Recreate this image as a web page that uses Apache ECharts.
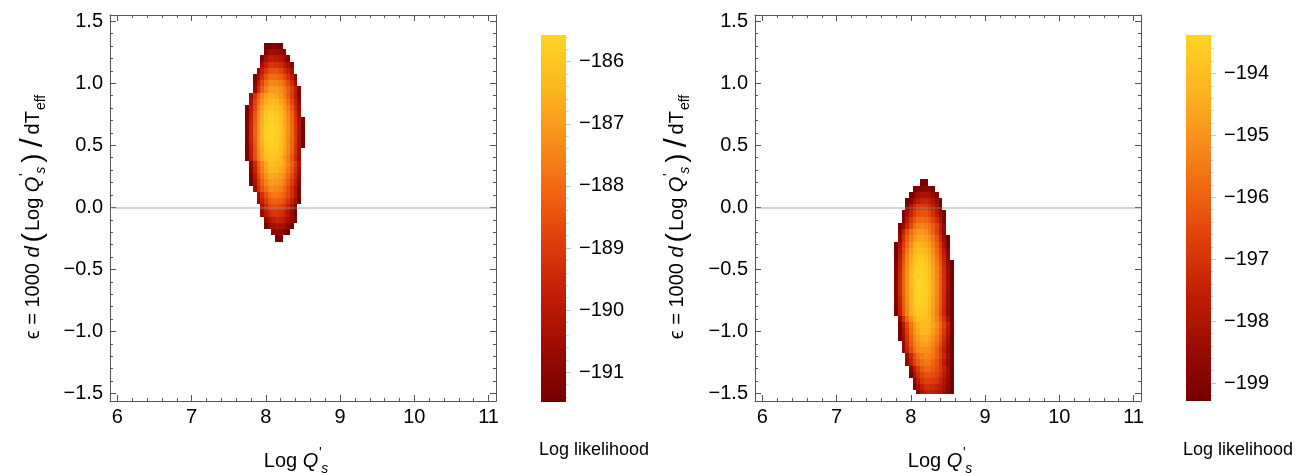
<!DOCTYPE html>
<html><head><meta charset="utf-8">
<script src="https://cdn.jsdelivr.net/npm/echarts@6.0.0/dist/echarts.min.js"></script>
<style>html,body{margin:0;padding:0;background:#fff}#c{width:1300px;height:473px}</style>
</head><body><div id="c"></div>
<script>
// ---------------- data ----------------
const GRID_STEP = 0.05;
const xTicks = [6, 7, 8, 9, 10, 11];
const xTickLabels = ['6', '7', '8', '9', '10', '11'];
const yTicks = [-1.5, -1, -0.5, 0, 0.5, 1, 1.5];
const yTickLabels = ['\u22121.5', '\u22121.0', '\u22120.5', '0.0', '0.5', '1.0', '1.5'];
const leftBarTicks = [-191, -190, -189, -188, -187, -186];
const leftBarLabels = ['\u2212191', '\u2212190', '\u2212189', '\u2212188', '\u2212187', '\u2212186'];
const rightBarTicks = [-199, -198, -197, -196, -195, -194];
const rightBarLabels = ['\u2212199', '\u2212198', '\u2212197', '\u2212196', '\u2212195', '\u2212194'];
const leftRange = [-191.48, -185.57];
const rightRange = [-199.29, -193.38];
const rightYMin = -1.5;

// left panel: one row per y, first x of row, log-likelihood values at x0, x0+0.05, ...
const leftRowY = [1.30, 1.25, 1.20, 1.15, 1.10, 1.05, 1.00, 0.95, 0.90, 0.85, 0.80, 0.75, 0.70, 0.65, 0.60, 0.55, 0.50, 0.45, 0.40, 0.35, 0.30, 0.25, 0.20, 0.15, 0.10, 0.05, 0.00, -0.05, -0.10, -0.15, -0.20, -0.25];
const leftRowX0 = [8.00, 8.00, 7.95, 7.95, 7.90, 7.85, 7.85, 7.85, 7.80, 7.80, 7.75, 7.75, 7.75, 7.75, 7.75, 7.75, 7.75, 7.75, 7.75, 7.80, 7.80, 7.80, 7.80, 7.85, 7.90, 7.90, 7.95, 7.95, 8.00, 8.00, 8.10, 8.15];
const leftRowV = [
  [-191.5, -191.5, -191.3, -191.4, -191.5],
  [-191.1, -190.7, -190.5, -190.6, -190.8, -191.2],
  [-191.2, -190.4, -189.9, -189.8, -189.9, -190.1, -190.5, -191.1],
  [-190.5, -189.7, -189.2, -189.1, -189.2, -189.4, -189.8, -190.4, -191.1],
  [-190.9, -189.8, -189.1, -188.6, -188.5, -188.5, -188.8, -189.2, -189.7, -190.4],
  [-191.4, -190.4, -189.3, -188.5, -188.0, -187.9, -188.0, -188.2, -188.6, -189.2, -189.9, -191.0],
  [-191.2, -189.9, -188.8, -188.0, -187.5, -187.4, -187.5, -187.7, -188.1, -188.7, -189.4, -190.5],
  [-190.8, -189.4, -188.3, -187.6, -187.1, -187.0, -187.0, -187.3, -187.7, -188.2, -188.9, -189.8, -190.9],
  [-190.6, -189.2, -188.2, -187.4, -186.9, -186.6, -186.6, -186.8, -187.1, -187.6, -188.2, -189.0, -189.9, -191.1],
  [-190.2, -188.9, -187.9, -187.1, -186.6, -186.3, -186.3, -186.4, -186.8, -187.2, -187.9, -188.7, -189.6, -190.8],
  [-191.5, -190.0, -188.7, -187.6, -186.8, -186.3, -186.0, -186.0, -186.2, -186.5, -187.0, -187.6, -188.4, -189.4, -190.5],
  [-191.4, -189.8, -188.5, -187.4, -186.6, -186.1, -185.8, -185.8, -186.0, -186.3, -186.8, -187.4, -188.2, -189.2, -190.3],
  [-191.2, -189.7, -188.3, -187.3, -186.5, -186.0, -185.7, -185.7, -185.9, -186.2, -186.7, -187.3, -188.1, -189.1, -190.2, -191.4],
  [-191.2, -189.6, -188.3, -187.2, -186.4, -185.9, -185.6, -185.6, -185.8, -186.1, -186.6, -187.2, -188.0, -189.0, -190.1, -191.4],
  [-191.2, -189.6, -188.2, -187.2, -186.4, -185.9, -185.6, -185.6, -185.8, -186.1, -186.6, -187.2, -188.0, -189.0, -190.1, -191.4],
  [-191.2, -189.6, -188.3, -187.2, -186.4, -185.9, -185.6, -185.6, -185.8, -186.1, -186.6, -187.3, -188.0, -189.0, -190.2, -191.4],
  [-191.3, -189.7, -188.4, -187.3, -186.5, -186.0, -185.7, -185.7, -185.9, -186.2, -186.7, -187.3, -188.1, -189.1, -190.2, -191.5],
  [-191.4, -189.8, -188.5, -187.4, -186.7, -186.1, -185.9, -185.9, -186.0, -186.3, -186.8, -187.4, -188.2, -189.2, -190.3],
  [-191.5, -190.0, -188.6, -187.6, -186.8, -186.3, -186.0, -186.0, -186.2, -186.5, -187.0, -187.6, -188.4, -189.4, -190.5],
  [-190.9, -189.5, -188.3, -187.4, -186.7, -186.3, -186.2, -186.3, -186.5, -186.9, -187.5, -188.2, -189.0, -190.1],
  [-191.1, -189.7, -188.5, -187.6, -186.9, -186.5, -186.4, -186.5, -186.7, -187.1, -187.7, -188.4, -189.3, -190.3],
  [-191.4, -190.0, -188.8, -187.9, -187.2, -186.8, -186.7, -186.8, -187.0, -187.4, -188.0, -188.7, -189.5, -190.6],
  [-191.5, -190.3, -189.1, -188.2, -187.5, -187.1, -187.0, -187.1, -187.3, -187.7, -188.3, -189.0, -189.8, -190.9],
  [-190.6, -189.4, -188.5, -187.9, -187.5, -187.3, -187.4, -187.6, -188.0, -188.6, -189.3, -190.2, -191.2],
  [-190.4, -189.3, -188.5, -188.0, -187.7, -187.7, -187.9, -188.2, -188.7, -189.3, -190.1, -191.1],
  [-190.8, -189.7, -189.0, -188.4, -188.2, -188.2, -188.3, -188.6, -189.1, -189.7, -190.5, -191.5],
  [-190.2, -189.4, -188.9, -188.6, -188.6, -188.8, -189.1, -189.6, -190.2, -191.0],
  [-190.7, -189.9, -189.4, -189.1, -189.1, -189.3, -189.6, -190.1, -190.7, -191.5],
  [-190.8, -190.2, -189.8, -189.6, -189.7, -190.0, -190.4, -190.9, -191.5],
  [-191.4, -190.8, -190.4, -190.2, -190.3, -190.5, -190.9, -191.5],
  [-191.0, -190.8, -190.9, -191.2, -191.5],
  [-191.5, -191.5]
];

// right panel
const rightRowY = [0.20, 0.15, 0.10, 0.05, 0.00, -0.05, -0.10, -0.15, -0.20, -0.25, -0.30, -0.35, -0.40, -0.45, -0.50, -0.55, -0.60, -0.65, -0.70, -0.75, -0.80, -0.85, -0.90, -0.95, -1.00, -1.05, -1.10, -1.15, -1.20, -1.25, -1.30, -1.35, -1.40, -1.45, -1.50];
const rightRowX0 = [8.15, 8.05, 8.00, 7.95, 7.95, 7.90, 7.90, 7.85, 7.85, 7.85, 7.80, 7.80, 7.80, 7.80, 7.80, 7.80, 7.80, 7.80, 7.80, 7.80, 7.80, 7.80, 7.85, 7.85, 7.85, 7.85, 7.90, 7.90, 7.95, 7.95, 8.00, 8.00, 8.05, 8.05, 8.10];
const rightRowV = [
  [-199.3, -199.2],
  [-199.3, -199.0, -198.8, -198.7, -198.9, -199.3],
  [-199.3, -198.8, -198.3, -198.1, -198.1, -198.2, -198.6, -199.1],
  [-199.3, -199.0, -198.2, -197.7, -197.4, -197.4, -197.6, -197.9, -198.5, -199.2],
  [-198.8, -198.0, -197.3, -196.9, -196.8, -196.9, -197.2, -197.6, -198.2, -199.0],
  [-199.3, -198.3, -197.4, -196.8, -196.4, -196.3, -196.3, -196.6, -197.1, -197.7, -198.5, -199.3],
  [-199.0, -197.8, -196.9, -196.3, -195.9, -195.8, -195.9, -196.1, -196.6, -197.2, -198.0, -198.9],
  [-199.3, -198.5, -197.4, -196.5, -195.8, -195.4, -195.3, -195.4, -195.7, -196.1, -196.7, -197.5, -198.5],
  [-198.8, -197.5, -196.5, -195.7, -195.2, -194.9, -194.9, -195.1, -195.5, -196.0, -196.7, -197.6, -198.6],
  [-198.4, -197.1, -196.1, -195.4, -194.9, -194.6, -194.6, -194.8, -195.1, -195.6, -196.3, -197.2, -198.3, -199.3],
  [-199.3, -198.1, -196.8, -195.8, -195.1, -194.5, -194.3, -194.3, -194.5, -194.8, -195.3, -196.0, -196.9, -198.0, -199.2],
  [-199.3, -197.9, -196.6, -195.6, -194.8, -194.3, -194.0, -194.0, -194.2, -194.5, -195.1, -195.8, -196.6, -197.7, -198.9],
  [-199.2, -197.6, -196.4, -195.3, -194.6, -194.1, -193.8, -193.8, -194.0, -194.3, -194.9, -195.6, -196.4, -197.5, -198.7],
  [-199.0, -197.5, -196.2, -195.2, -194.4, -193.9, -193.6, -193.6, -193.8, -194.2, -194.7, -195.4, -196.3, -197.3, -198.6, -199.3],
  [-198.9, -197.4, -196.1, -195.1, -194.3, -193.8, -193.5, -193.5, -193.7, -194.0, -194.6, -195.3, -196.1, -197.2, -198.4, -199.3],
  [-198.8, -197.3, -196.0, -195.0, -194.2, -193.7, -193.5, -193.4, -193.6, -194.0, -194.5, -195.2, -196.1, -197.1, -198.4, -199.3],
  [-198.8, -197.3, -196.0, -195.0, -194.2, -193.7, -193.4, -193.4, -193.6, -194.0, -194.5, -195.2, -196.1, -197.1, -198.3, -199.3],
  [-198.8, -197.3, -196.0, -195.0, -194.2, -193.7, -193.4, -193.4, -193.6, -194.0, -194.5, -195.2, -196.1, -197.1, -198.3, -199.3],
  [-198.8, -197.3, -196.0, -195.0, -194.3, -193.7, -193.5, -193.5, -193.6, -194.0, -194.5, -195.2, -196.1, -197.2, -198.4, -199.3],
  [-198.9, -197.4, -196.1, -195.1, -194.3, -193.8, -193.5, -193.5, -193.7, -194.1, -194.6, -195.3, -196.2, -197.2, -198.5, -199.3],
  [-199.0, -197.5, -196.2, -195.2, -194.4, -193.9, -193.6, -193.6, -193.8, -194.2, -194.7, -195.4, -196.3, -197.3, -198.5, -199.3],
  [-199.1, -197.6, -196.3, -195.3, -194.5, -194.0, -193.8, -193.7, -193.9, -194.3, -194.8, -195.5, -196.4, -197.4, -198.7, -199.3],
  [-198.5, -197.1, -195.9, -195.0, -194.4, -194.0, -193.9, -194.0, -194.2, -194.7, -195.3, -196.1, -197.0, -198.2, -199.3],
  [-199.3, -197.9, -196.6, -195.6, -194.8, -194.3, -194.1, -194.0, -194.2, -194.6, -195.1, -195.8, -196.7, -197.7, -199.0],
  [-199.3, -198.1, -196.8, -195.8, -195.0, -194.5, -194.2, -194.2, -194.4, -194.8, -195.3, -196.0, -196.9, -197.9, -199.2],
  [-199.3, -198.3, -197.0, -196.0, -195.2, -194.7, -194.5, -194.4, -194.6, -195.0, -195.5, -196.2, -197.1, -198.1, -199.3],
  [-198.5, -197.3, -196.2, -195.5, -195.0, -194.7, -194.7, -194.9, -195.2, -195.7, -196.5, -197.3, -198.4, -199.3],
  [-198.8, -197.5, -196.5, -195.7, -195.2, -195.0, -195.0, -195.1, -195.5, -196.0, -196.7, -197.6, -198.6, -199.3],
  [-198.4, -197.3, -196.4, -195.7, -195.4, -195.2, -195.3, -195.6, -196.0, -196.6, -197.4, -198.4, -199.3],
  [-198.7, -197.6, -196.7, -196.1, -195.7, -195.5, -195.6, -195.9, -196.3, -196.9, -197.7, -198.7, -199.3],
  [-198.8, -197.6, -196.8, -196.2, -195.9, -195.9, -196.1, -196.4, -196.9, -197.5, -198.3, -199.3],
  [-199.3, -198.1, -197.2, -196.6, -196.3, -196.3, -196.4, -196.7, -197.1, -197.7, -198.4, -199.3],
  [-198.8, -197.7, -197.0, -196.7, -196.7, -196.8, -197.0, -197.4, -197.9, -198.6, -199.3],
  [-199.3, -198.3, -197.5, -197.1, -197.1, -197.2, -197.4, -197.7, -198.1, -198.7, -199.3],
  [-199.0, -198.1, -197.6, -197.5, -197.6, -197.8, -198.0, -198.4, -198.8, -199.3]
];

// ---------------- styling / layout ----------------
const F = "'Liberation Sans', Arial, Helvetica, sans-serif";
const FS = 20;
const FRAME = '#555555';
const X_MIN = 5.9, X_MAX = 11.1, Y_MIN = -1.56, Y_MAX = 1.55;
const PALETTE = ['#750000', '#9a0c02', '#c01c04', '#dd3c0a', '#f06512', '#f78f1a', '#fbb71f', '#ffd424'];

function cells(rowY, rowX0, rowV) {
  const out = [];
  rowV.forEach((vals, r) => {
    vals.forEach((v, i) => {
      const x = Math.round((rowX0[r] + i * GRID_STEP) * 1000) / 1000;
      out.push([x, rowY[r], v]);
    });
  });
  return out;
}
function stepTicks(lo, hi, step, exclude) {
  const out = [];
  const n = Math.round((hi - lo) / step);
  for (let i = 0; i <= n; i++) {
    const v = Math.round((lo + i * step) * 1000) / 1000;
    if (!exclude.some(e => Math.abs(e - v) < 1e-9)) out.push(v);
  }
  return out;
}
const xMinor = stepTicks(6, 11, 0.2, xTicks);
const yMinor = stepTicks(-1.5, 1.5, 0.1, yTicks);
const leftBarMinor = stepTicks(-191.4, -185.6, 0.2, leftBarTicks);
const rightBarMinor = stepTicks(-199.2, -193.4, 0.2, rightBarTicks);

function fmt(ticks, labels) {
  return v => { const i = ticks.findIndex(t => Math.abs(t - v) < 1e-6); return i < 0 ? '' : labels[i]; };
}
const labelStyle = { fontFamily: F, fontSize: FS, color: '#000' };

function plotAxes(g) {
  const xs = [], ys = [];
  ['bottom', 'top'].forEach(pos => {
    xs.push({ gridIndex: g, type: 'value', min: X_MIN, max: X_MAX, position: pos, splitLine: { show: false },
      axisLine: { show: true, onZero: false, lineStyle: { color: FRAME, width: 1 } },
      axisTick: { show: true, inside: true, length: 6, customValues: xTicks, lineStyle: { color: FRAME } },
      axisLabel: Object.assign({ show: pos === 'bottom', customValues: xTicks, formatter: fmt(xTicks, xTickLabels), margin: 6 }, labelStyle) });
    xs.push({ gridIndex: g, type: 'value', min: X_MIN, max: X_MAX, position: pos, splitLine: { show: false },
      axisLine: { show: false, onZero: false },
      axisTick: { show: true, inside: true, length: 3, customValues: xMinor, lineStyle: { color: FRAME } },
      axisLabel: { show: false } });
  });
  ['left', 'right'].forEach(pos => {
    ys.push({ gridIndex: g, type: 'value', min: Y_MIN, max: Y_MAX, position: pos, splitLine: { show: false },
      axisLine: { show: true, onZero: false, lineStyle: { color: FRAME, width: 1 } },
      axisTick: { show: true, inside: true, length: 6, customValues: yTicks, lineStyle: { color: FRAME } },
      axisLabel: Object.assign({ show: pos === 'left', customValues: yTicks, formatter: fmt(yTicks, yTickLabels), margin: 7 }, labelStyle) });
    ys.push({ gridIndex: g, type: 'value', min: Y_MIN, max: Y_MAX, position: pos, splitLine: { show: false },
      axisLine: { show: false, onZero: false },
      axisTick: { show: true, inside: true, length: 3, customValues: yMinor, lineStyle: { color: FRAME } },
      axisLabel: { show: false } });
  });
  return { xs, ys };
}
function barAxes(g, range, ticks, labels, minor) {
  const xs = [{ gridIndex: g, type: 'value', min: 0, max: 1, show: false }];
  const ys = [
    { gridIndex: g, type: 'value', min: range[0], max: range[1], position: 'right', splitLine: { show: false },
      axisLine: { show: false, onZero: false },
      axisTick: { show: true, inside: false, length: 5, customValues: ticks, lineStyle: { color: '#c8c8c8' } },
      axisLabel: Object.assign({ customValues: ticks, formatter: fmt(ticks, labels), margin: 13 }, labelStyle) },
    { gridIndex: g, type: 'value', min: range[0], max: range[1], position: 'right', splitLine: { show: false },
      axisLine: { show: false, onZero: false },
      axisTick: { show: true, inside: false, length: 3, customValues: minor, lineStyle: { color: '#d8d8d8' } },
      axisLabel: { show: false } }
  ];
  return { xs, ys };
}

const pA = plotAxes(0), bA = barAxes(1, leftRange, leftBarTicks, leftBarLabels, leftBarMinor);
const pB = plotAxes(2), bB = barAxes(3, rightRange, rightBarTicks, rightBarLabels, rightBarMinor);
const xAxis = [].concat(pA.xs, bA.xs, pB.xs, bB.xs);
const yAxis = [].concat(pA.ys, bA.ys, pB.ys, bB.ys);

function cellRenderer(yFloor) {
  return function (params, api) {
    const x = api.value(0), y = api.value(1), h = GRID_STEP / 2;
    const yb = (yFloor == null) ? y - h : Math.max(y - h, yFloor);
    const p0 = api.coord([x - h, y + h]);
    const p1 = api.coord([x + h, yb]);
    const x0 = Math.round(p0[0]), x1 = Math.round(p1[0]);
    const y0 = Math.round(p0[1]), y1 = Math.round(p1[1]);
    return { type: 'rect', shape: { x: x0, y: y0, width: x1 - x0, height: y1 - y0 },
      style: { fill: api.visual('color') } };
  };
}
function barRenderer(params, api) {
  const p0 = api.coord([0, api.value(2)]);
  const p1 = api.coord([1, api.value(1)]);
  const stops = PALETTE.map((c, i) => ({ offset: 1 - i / (PALETTE.length - 1), color: c })).reverse();
  return { type: 'rect', shape: { x: p0[0], y: p0[1], width: p1[0] - p0[0], height: p1[1] - p0[1] },
    style: { fill: new echarts.graphic.LinearGradient(0, 0, 0, 1, stops) } };
}
const zeroLine = { silent: true, symbol: ['none', 'none'], label: { show: false },
  lineStyle: { color: 'rgba(140,140,140,0.5)', width: 1.5, type: 'solid' }, data: [{ yAxis: 0 }] };

// titles
const titleRich = {
  n: { fontFamily: F, fontSize: FS, color: '#000', lineHeight: 30 },
  i: { fontFamily: F, fontSize: FS, fontStyle: 'italic', color: '#000', lineHeight: 30, padding: [0, 2, 0, 0] },
  p: { fontFamily: F, fontSize: 28, color: '#000', lineHeight: 30, padding: [0, 2, 0, 2] },
  sl: { fontFamily: F, fontSize: 32, color: '#000', lineHeight: 30, padding: [0, 4, 0, 4] },
  pr: { fontFamily: F, fontSize: 14, color: '#000', verticalAlign: 'top', lineHeight: 20, width: 0 },
  sb: { fontFamily: F, fontSize: 14, fontStyle: 'italic', color: '#000', verticalAlign: 'bottom', lineHeight: 18, padding: [0, 2, 0, 1] },
  e: { fontFamily: F, fontSize: 14, color: '#000', verticalAlign: 'bottom', lineHeight: 18, padding: [0, 0, 0, 1] }
};
const yTitle = '{n|\u03f5 = 1000 }{i|d}{p|(}{n|Log }{i|Q}{pr|\'}{sb|s}{p|)}{sl|/}{n|dT}{e|eff}';
const xTitle = '{n|Log }{i|Q}{pr|\'}{sb|s}';
function textEl(x, y, text, rot) {
  return { type: 'text', x: x, y: y, rotation: rot || 0, silent: true,
    style: { text: text, rich: titleRich, fontFamily: F, fontSize: FS, fill: '#000',
      align: 'center', verticalAlign: 'middle', textAlign: 'center', textVerticalAlign: 'middle' } };
}

const chart = echarts.init(document.getElementById('c'), null, { renderer: 'canvas' });
chart.setOption({
  animation: false,
  backgroundColor: '#fff',
  grid: [
    { left: 110, top: 15, width: 386, height: 386, containLabel: false },
    { left: 541, top: 35, width: 25, height: 367, containLabel: false },
    { left: 755, top: 15, width: 386, height: 386, containLabel: false },
    { left: 1186, top: 35, width: 25, height: 366, containLabel: false }
  ],
  xAxis: xAxis,
  yAxis: yAxis,
  visualMap: [
    { type: 'continuous', show: false, seriesIndex: 0, dimension: 2, min: leftRange[0], max: leftRange[1], inRange: { color: PALETTE } },
    { type: 'continuous', show: false, seriesIndex: 2, dimension: 2, min: rightRange[0], max: rightRange[1], inRange: { color: PALETTE } }
  ],
  series: [
    { type: 'custom', xAxisIndex: 0, yAxisIndex: 0, clip: true, renderItem: cellRenderer(null),
      data: cells(leftRowY, leftRowX0, leftRowV), encode: { x: 0, y: 1 }, markLine: zeroLine, z: 2 },
    { type: 'custom', xAxisIndex: 4, yAxisIndex: 4, renderItem: barRenderer,
      data: [[0, leftRange[0], leftRange[1]]], encode: { x: 0, y: [1, 2] } },
    { type: 'custom', xAxisIndex: 5, yAxisIndex: 6, clip: true, renderItem: cellRenderer(rightYMin),
      data: cells(rightRowY, rightRowX0, rightRowV), encode: { x: 0, y: 1 }, markLine: zeroLine, z: 2 },
    { type: 'custom', xAxisIndex: 9, yAxisIndex: 10, renderItem: barRenderer,
      data: [[0, rightRange[0], rightRange[1]]], encode: { x: 0, y: [1, 2] } }
  ],
  graphic: [
    textEl(33, 217, yTitle, Math.PI / 2),
    textEl(677, 217, yTitle, Math.PI / 2),
    textEl(297, 461, xTitle),
    textEl(941, 461, xTitle),
    { type: 'text', x: 594, y: 450, silent: true, style: { text: 'Log likelihood', fontFamily: F, fontSize: 18, fill: '#000', align: 'center', verticalAlign: 'middle', textAlign: 'center', textVerticalAlign: 'middle' } },
    { type: 'text', x: 1238, y: 450, silent: true, style: { text: 'Log likelihood', fontFamily: F, fontSize: 18, fill: '#000', align: 'center', verticalAlign: 'middle', textAlign: 'center', textVerticalAlign: 'middle' } }
  ]
});
</script></body></html>
